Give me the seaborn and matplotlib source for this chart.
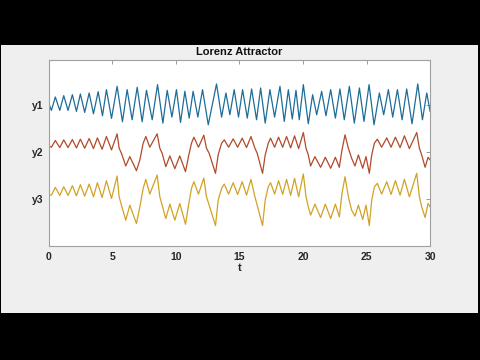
import numpy as np
import pandas as pd
import seaborn as sns
import matplotlib.pyplot as plt
from matplotlib.patches import Rectangle

# y1 trace (peaks / troughs)
t1 = [0.00, 0.21, 0.52, 0.87, 1.18, 1.52, 1.86, 2.18, 2.49, 2.83, 3.18, 3.52,
      3.89, 4.23, 4.54, 4.94, 5.38, 5.80, 6.17, 6.56, 6.96, 7.35, 7.69, 8.14,
      8.56, 8.98, 9.32, 9.69, 10.05, 10.37, 10.71, 11.05, 11.36, 11.73, 12.10,
      12.55, 13.20, 13.60, 13.94, 14.25, 14.59, 14.93, 15.25, 15.62, 15.96,
      16.35, 16.67, 17.03, 17.40, 17.77, 18.19, 18.53, 18.85, 19.16, 19.45,
      19.71, 20.03, 20.42, 20.76, 21.08, 21.47, 21.81, 22.18, 22.55, 22.91,
      23.25, 23.65, 24.04, 24.44, 24.80, 25.20, 25.59, 26.01, 26.35, 26.72,
      27.06, 27.43, 27.80, 28.16, 28.58, 29.03, 29.40, 29.74, 30.00]
y1 = [8.54, 8.10, 8.90, 8.10, 8.98, 8.10, 9.04, 8.04, 9.08, 7.98, 9.14, 7.90,
      9.22, 7.78, 9.34, 7.62, 9.54, 7.42, 9.34, 7.54, 9.48, 7.42, 9.30, 7.54,
      9.64, 7.34, 9.30, 7.70, 9.34, 7.38, 9.24, 7.64, 9.24, 7.70, 9.34,
      7.24, 9.68, 7.70, 9.14, 7.84, 9.34, 7.70, 9.34, 7.64, 9.38,
      7.54, 9.44, 7.34, 9.34, 7.70, 9.54, 7.44, 9.34, 7.58, 9.30,
      7.54, 9.64, 7.30, 9.04, 7.84, 9.24, 7.78, 9.34, 7.64, 9.38,
      7.54, 9.54, 7.34, 9.44, 7.44, 9.64, 7.24, 9.14, 7.84, 9.34,
      7.70, 9.34, 7.54, 9.38, 7.30, 9.68, 7.54, 9.14, 8.04]

# y2 / y3 traces share the same time points
t23 = [0.00, 0.21, 0.52, 0.87, 1.18, 1.52, 1.86, 2.18, 2.49, 2.83, 3.18, 3.52,
       3.83, 4.20, 4.54, 4.94, 5.38, 5.54, 5.72, 6.06, 6.38, 6.90, 7.17, 7.43,
       7.64, 7.95, 8.53, 8.74, 8.92, 9.21, 9.53, 9.92, 10.31, 10.76, 11.02,
       11.23, 11.42, 11.78, 12.20, 12.41, 12.62, 13.12, 13.33, 13.60, 13.81,
       14.15, 14.51, 14.86, 15.22, 15.56, 15.91, 16.22, 16.40, 16.82, 17.03,
       17.27, 17.45, 17.77, 18.08, 18.40, 18.71, 19.03, 19.34, 19.66, 20.03,
       20.24, 20.42, 20.60, 20.94, 21.39, 21.76, 22.18, 22.55, 22.86, 23.07,
       23.31, 23.57, 23.83, 24.09, 24.36, 24.70, 24.96, 25.22, 25.41, 25.62,
       25.85, 26.19, 26.59, 26.93, 27.27, 27.64, 27.98, 28.37, 28.95, 29.16,
       29.34, 29.61, 29.84, 30.00]
y2 = [5.98, 5.90, 6.30, 5.88, 6.34, 5.88, 6.36, 5.86, 6.38, 5.84, 6.42, 5.82,
      6.46, 5.78, 6.54, 5.74, 6.70, 5.84, 5.54, 4.78, 5.34, 4.50, 5.14, 6.14,
      6.54, 5.90, 6.70, 5.84, 5.54, 4.74, 5.38, 4.62, 5.38, 4.44, 5.44,
      6.14, 6.50, 5.90, 6.62, 5.84, 5.54, 4.34, 5.44, 6.14, 6.34,
      5.90, 6.40, 5.90, 6.44, 5.88, 6.54, 5.84, 5.54, 4.34, 5.44,
      6.14, 6.44, 5.90, 6.50, 5.90, 6.54, 5.86, 6.58, 5.82, 6.78,
      5.84, 5.44, 4.78, 5.34, 4.70, 5.30, 4.64, 5.30, 4.70, 5.74,
      6.64, 5.84, 5.24, 4.78, 5.44, 4.64, 5.34, 4.34, 5.44, 6.14,
      6.38, 5.90, 6.46, 5.90, 6.50, 5.88, 6.58, 5.82, 6.78, 5.84,
      5.44, 4.70, 5.30, 5.14]
y3 = [3.04, 3.04, 3.50, 3.02, 3.54, 3.02, 3.60, 3.00, 3.66, 2.98, 3.70, 2.94,
      3.78, 2.90, 3.90, 2.84, 4.18, 2.94, 2.44, 1.54, 2.44, 1.34, 2.34, 3.44,
      3.98, 3.10, 4.24, 2.94, 2.44, 1.64, 2.50, 1.54, 2.54, 1.30, 2.54,
      3.44, 3.84, 3.10, 4.06, 2.94, 2.44, 1.22, 2.74, 3.44, 3.70,
      3.10, 3.78, 3.08, 3.84, 3.04, 3.98, 2.94, 2.44, 1.22, 2.74,
      3.54, 3.78, 3.10, 3.90, 3.08, 3.98, 3.02, 4.04, 2.94, 4.30,
      2.94, 2.34, 1.84, 2.50, 1.70, 2.50, 1.64, 2.50, 1.74, 3.14,
      4.14, 2.94, 2.14, 1.78, 2.44, 1.58, 2.44, 1.22, 2.74, 3.54,
      3.74, 3.10, 3.84, 3.08, 3.90, 3.04, 3.98, 2.94, 4.34, 2.94,
      2.34, 1.70, 2.54, 2.34]

ytick_pos = [2.78, 5.64, 8.44]
ytick_labels = ["y3", "y2", "y1"]
xticks = [0, 5, 10, 15, 20, 25, 30]

colors = {"y1": "#1d6d9a", "y2": "#b24a2a", "y3": "#d2a224"}

df1 = pd.DataFrame({"t": t1, "value": y1})
df23 = pd.DataFrame({"t": t23, "y2": y2, "y3": y3})

sns.set_theme(style="white")
plt.rcParams["font.family"] = ["Liberation Sans", "DejaVu Sans"]

fig = plt.figure(figsize=(4.8, 3.6), dpi=100, facecolor="black")
fig.patches.append(Rectangle((1 / 480, 47 / 360), 477 / 480, 268 / 360,
                             transform=fig.transFigure, facecolor="#efefef",
                             edgecolor="none", zorder=-10))
ax = fig.add_axes([0.1015, 0.3167, 0.7945, 0.518])
ax.set_facecolor("white")

sns.lineplot(data=df1, x="t", y="value", ax=ax, color=colors["y1"],
             linewidth=0.9, estimator=None, sort=False)
sns.lineplot(data=df23, x="t", y="y2", ax=ax, color=colors["y2"],
             linewidth=0.9, estimator=None, sort=False)
sns.lineplot(data=df23, x="t", y="y3", ax=ax, color=colors["y3"],
             linewidth=0.9, estimator=None, sort=False)

ax.set_xlim(0, 30)
ax.set_ylim(0, 11.14)
ax.set_xticks(xticks)
ax.set_yticks(ytick_pos)
ax.set_yticklabels(ytick_labels)
ax.set_xlabel("t", fontsize=8, fontweight="bold", labelpad=1, color="#262626")
ax.set_ylabel("")
ax.set_title("Lorenz Attractor", fontsize=8, fontweight="bold", pad=3,
             color="#111111")
ax.tick_params(axis="both", direction="in", length=3, width=0.6,
               colors="#8a8a8a", labelcolor="#262626", labelsize=7.5,
               top=True, right=True, pad=4)
for lab in ax.get_xticklabels() + ax.get_yticklabels():
    lab.set_fontweight("bold")
for s in ax.spines.values():
    s.set_color("#a0a0a0")
    s.set_linewidth(0.8)

fig.savefig("out.png", dpi=100, facecolor="black")
